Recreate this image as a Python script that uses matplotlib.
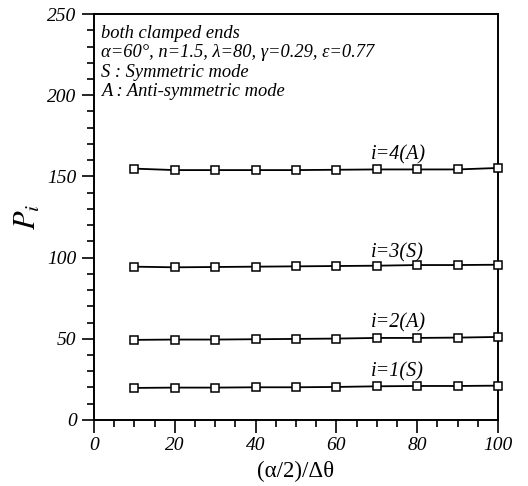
import matplotlib
matplotlib.use("Agg")
import matplotlib.pyplot as plt
from matplotlib.ticker import MultipleLocator

x = [10, 20, 30, 40, 50, 60, 70, 80, 90, 100]
p1 = [19.7, 19.9, 19.9, 20.1, 20.1, 20.3, 20.7, 20.9, 20.9, 21.1]
p2 = [49.3, 49.5, 49.5, 49.7, 49.9, 50.1, 50.5, 50.5, 50.7, 51.1]
p3 = [94.4, 94.0, 94.2, 94.4, 94.6, 94.8, 95.0, 95.4, 95.4, 95.6]
p4 = [154.8, 153.9, 153.9, 153.9, 153.9, 154.1, 154.3, 154.3, 154.3, 155.2]
series = [p1, p2, p3, p4]
labels = ["i=1(S)", "i=2(A)", "i=3(S)", "i=4(A)"]
label_y = [29.4, 59.5, 103, 163]
info = ["both clamped ends",
        "α=60°, n=1.5, λ=80, γ=0.29, ε=0.77",
        "S : Symmetric mode",
        "A : Anti-symmetric mode"]

plt.rcParams['font.family'] = ['Liberation Serif', 'DejaVu Serif']
plt.rcParams['mathtext.fontset'] = 'stix'
fig = plt.figure(figsize=(5.28, 4.86), dpi=100)
ax = fig.add_axes([0.178, 0.136, 0.765, 0.835])

for s in series:
    ax.plot(x, s, color='black', lw=1.3, marker='s', markersize=5.8,
            markerfacecolor='white', markeredgecolor='black', markeredgewidth=1.1,
            clip_on=False, zorder=3)

for lab, ly in zip(labels, label_y):
    ax.text(68.5, ly, lab, fontsize=14.5, style='italic', va='center', ha='left')

for k, t in enumerate(info):
    ax.text(0.018, 0.953 - k * 0.048, t, transform=ax.transAxes,
            fontsize=13.3, style='italic', va='center', ha='left')

ax.set_xlim(0, 100)
ax.set_ylim(0, 250)
ax.xaxis.set_major_locator(MultipleLocator(20))
ax.xaxis.set_minor_locator(MultipleLocator(5))
ax.yaxis.set_major_locator(MultipleLocator(50))
ax.yaxis.set_minor_locator(MultipleLocator(10))
ax.tick_params(which='major', direction='out', length=9, width=1.2, labelsize=14)
ax.tick_params(which='minor', direction='out', length=5, width=1.2)
for lbl in ax.get_xticklabels() + ax.get_yticklabels():
    lbl.set_fontstyle('italic')
for sp in ax.spines.values():
    sp.set_linewidth(1.4)

ax.set_xlabel("(α/2)/Δθ", fontsize=16.5, labelpad=5)
ax.set_ylabel("$P_i$", fontsize=22, labelpad=3)

fig.savefig("out.png", dpi=100)
